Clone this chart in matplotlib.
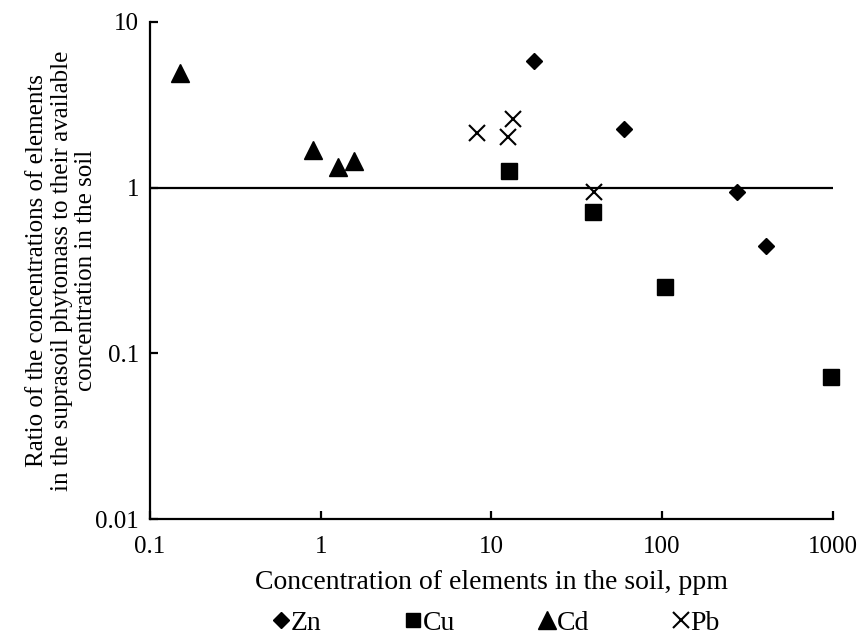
import matplotlib
matplotlib.use('Agg')
import matplotlib.pyplot as plt
from matplotlib.lines import Line2D
from matplotlib.ticker import FixedLocator, FixedFormatter, NullLocator

# Data
zn_x = [17.9, 60, 275, 406]
zn_y = [5.84, 2.25, 0.946, 0.445]
cu_x = [12.7, 39.4, 104.5, 980]
cu_y = [1.26, 0.716, 0.253, 0.0724]
cd_x = [0.149, 0.90, 1.26, 1.56]
cd_y = [4.9, 1.69, 1.34, 1.44]
pb_x = [8.2, 12.6, 13.4, 40.1]
pb_y = [2.15, 2.01, 2.6, 0.946]

x_ticks = [0.1, 1, 10, 100, 1000]
x_labels = ['0.1', '1', '10', '100', '1000']
y_ticks = [0.01, 0.1, 1, 10]
y_labels = ['0.01', '0.1', '1', '10']
ref_level = 1

plt.rcParams['font.family'] = ['Liberation Serif', 'DejaVu Serif']
FS = 18
FS_X = 20

fig = plt.figure(figsize=(8.59, 6.35), dpi=100)
ax = fig.add_axes([150/859, 1-519/635, (832.5-150)/859, (519-22)/635])
ax.set_xscale('log')
ax.set_yscale('log')
ax.set_xlim(0.1, 1000)
ax.set_ylim(0.01, 10)

ax.axhline(ref_level, color='black', lw=1.6, zorder=1)

ax.plot(zn_x, zn_y, ls='none', marker='D', ms=8.6, color='black', zorder=3, clip_on=False)
ax.plot(cu_x, cu_y, ls='none', marker='s', ms=11.5, color='black', zorder=3, clip_on=False)
ax.plot(cd_x, cd_y, ls='none', marker='^', ms=12.5, color='black', zorder=3, clip_on=False)
ax.plot(pb_x, pb_y, ls='none', marker='x', ms=12, mew=1.5, color='black', zorder=3, clip_on=False)

for s in ['top', 'right']:
    ax.spines[s].set_visible(False)
for s in ['left', 'bottom']:
    ax.spines[s].set_linewidth(1.6)

ax.xaxis.set_major_locator(FixedLocator(x_ticks))
ax.xaxis.set_major_formatter(FixedFormatter(x_labels))
ax.yaxis.set_major_locator(FixedLocator(y_ticks))
ax.yaxis.set_major_formatter(FixedFormatter(y_labels))
ax.xaxis.set_minor_locator(NullLocator())
ax.yaxis.set_minor_locator(NullLocator())
ax.tick_params(which='major', direction='in', length=6, width=1.6, labelsize=FS)
ax.tick_params(axis='x', pad=12.5)
ax.tick_params(axis='y', pad=8)

ax.set_xlabel('Concentration of elements in the soil, ppm', fontsize=FS_X, labelpad=8.5)
ax.set_ylabel('Ratio of the concentrations of elements\n'
              'in the suprasoil phytomass to their available\n'
              'concentration in the soil', fontsize=FS, labelpad=-1.5, linespacing=1.16)

handles = [
    Line2D([], [], ls='none', marker='D', ms=7.8, color='black'),
    Line2D([], [], ls='none', marker='s', ms=10.5, color='black'),
    Line2D([], [], ls='none', marker='^', ms=12.5, color='black'),
    Line2D([], [], ls='none', marker='x', ms=11, mew=1.5, color='black'),
]
fig.legend(handles, ['Zn', 'Cu', 'Cd', 'Pb'], loc='center', bbox_to_anchor=(0.578, 1-623/635),
           ncol=4, frameon=False, handletextpad=0.05, columnspacing=3.0, handlelength=0.6,
           fontsize=FS_X, borderaxespad=0, borderpad=0)

fig.savefig('out.png', dpi=100)
